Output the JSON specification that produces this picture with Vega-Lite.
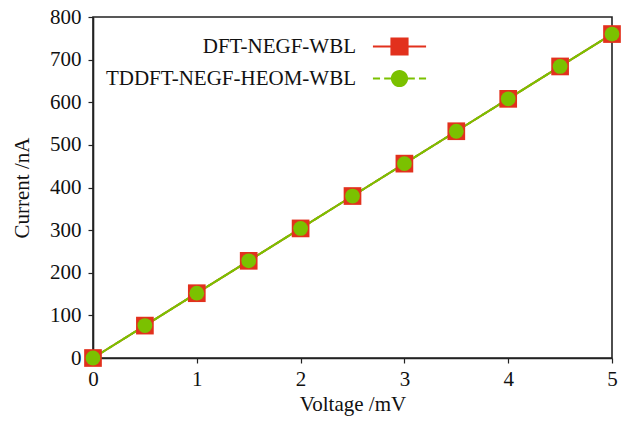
{
  "$schema": "https://vega.github.io/schema/vega-lite/v6.json",
  "width": 519,
  "height": 341,
  "autosize": "none",
  "padding": {"left": 93, "top": 17, "right": 12, "bottom": 63},
  "background": "white",
  "config": {
    "font": "Liberation Serif",
    "view": {"stroke": "#222222", "strokeWidth": 1.6},
    "axis": {
      "grid": false,
      "domainColor": "#222222",
      "domainWidth": 1.6,
      "tickColor": "#222222",
      "tickWidth": 1.2,
      "tickSize": 5,
      "labelFlush": false,
      "labelFont": "Liberation Serif",
      "labelFontSize": 21,
      "labelColor": "#111111",
      "titleFont": "Liberation Serif",
      "titleFontSize": 21,
      "titleFontWeight": "normal",
      "titleColor": "#111111"
    },
    "legend": {
      "labelFont": "Liberation Serif",
      "labelFontSize": 21,
      "labelColor": "#111111",
      "labelLimit": 0
    }
  },
  "data": {
    "values": [
      {"series": "DFT-NEGF-WBL", "voltage": 0, "current": 0},
      {"series": "DFT-NEGF-WBL", "voltage": 0.5, "current": 76},
      {"series": "DFT-NEGF-WBL", "voltage": 1, "current": 152},
      {"series": "DFT-NEGF-WBL", "voltage": 1.5, "current": 228},
      {"series": "DFT-NEGF-WBL", "voltage": 2, "current": 304},
      {"series": "DFT-NEGF-WBL", "voltage": 2.5, "current": 380},
      {"series": "DFT-NEGF-WBL", "voltage": 3, "current": 456},
      {"series": "DFT-NEGF-WBL", "voltage": 3.5, "current": 532},
      {"series": "DFT-NEGF-WBL", "voltage": 4, "current": 608},
      {"series": "DFT-NEGF-WBL", "voltage": 4.5, "current": 684},
      {"series": "DFT-NEGF-WBL", "voltage": 5, "current": 760},
      {"series": "TDDFT-NEGF-HEOM-WBL", "voltage": 0, "current": 0},
      {"series": "TDDFT-NEGF-HEOM-WBL", "voltage": 0.5, "current": 76},
      {"series": "TDDFT-NEGF-HEOM-WBL", "voltage": 1, "current": 152},
      {"series": "TDDFT-NEGF-HEOM-WBL", "voltage": 1.5, "current": 228},
      {"series": "TDDFT-NEGF-HEOM-WBL", "voltage": 2, "current": 304},
      {"series": "TDDFT-NEGF-HEOM-WBL", "voltage": 2.5, "current": 380},
      {"series": "TDDFT-NEGF-HEOM-WBL", "voltage": 3, "current": 456},
      {"series": "TDDFT-NEGF-HEOM-WBL", "voltage": 3.5, "current": 532},
      {"series": "TDDFT-NEGF-HEOM-WBL", "voltage": 4, "current": 608},
      {"series": "TDDFT-NEGF-HEOM-WBL", "voltage": 4.5, "current": 684},
      {"series": "TDDFT-NEGF-HEOM-WBL", "voltage": 5, "current": 760}
    ]
  },
  "encoding": {
    "x": {
      "field": "voltage",
      "type": "quantitative",
      "scale": {"domain": [0, 5], "nice": false, "zero": false},
      "axis": {"values": [0, 1, 2, 3, 4, 5], "title": "Voltage /mV", "labelPadding": 5, "titlePadding": 4, "format": "d", "labelFlush": false}
    },
    "y": {
      "field": "current",
      "type": "quantitative",
      "scale": {"domain": [0, 800], "nice": false},
      "axis": {"values": [0, 100, 200, 300, 400, 500, 600, 700, 800], "title": "Current /nA", "labelPadding": 7, "titlePadding": 17, "format": "d", "labelFlush": false}
    }
  },
  "layer": [
    {
      "mark": {"type": "line", "strokeWidth": 2},
      "encoding": {
        "color": {
          "field": "series",
          "type": "nominal",
          "scale": {"domain": ["DFT-NEGF-WBL", "TDDFT-NEGF-HEOM-WBL"], "range": ["#e2311d", "#7bc100"]},
          "legend": {
            "title": null,
            "orient": "none",
            "legendX": 296,
            "legendY": 19,
            "labelAlign": "right",
            "labelOffset": -54,
            "labelLimit": 0,
            "symbolSize": 350,
            "symbolStrokeWidth": 0,
            "rowPadding": 10,
            "encode": {
              "symbols": {
                "update": {
                  "shape": {"signal": "datum.value == 'DFT-NEGF-WBL' ? 'M-2.84,-0.11L2.84,-0.11L2.84,0.11L-2.84,0.11Z M-0.97,-0.97L0.97,-0.97L0.97,0.97L-0.97,0.97Z' : 'M-2.84,-0.11L-2.08,-0.11L-2.08,0.11L-2.84,0.11Z M-1.64,-0.11L-0.8,-0.11L-0.8,0.11L-1.64,0.11Z M0.8,-0.11L1.64,-0.11L1.64,0.11L0.8,0.11Z M2.08,-0.11L2.84,-0.11L2.84,0.11L2.08,0.11Z M0.92,0A0.92,0.92 0 1,1 -0.92,0A0.92,0.92 0 1,1 0.92,0Z'"},
                  "fill": {"signal": "datum.value == 'DFT-NEGF-WBL' ? '#e2311d' : '#7bc100'"},
                  "stroke": {"value": "transparent"},
                  "strokeWidth": {"value": 0},
                  "opacity": {"value": 1},
                  "fillOpacity": {"value": 1}
                }
              }
            }
          }
        }
      }
    },
    {
      "transform": [{"filter": "datum.series == 'TDDFT-NEGF-HEOM-WBL'"}],
      "mark": {"type": "line", "strokeWidth": 2, "color": "#7bc100", "strokeDash": [5, 4]}
    },
    {
      "transform": [{"filter": "datum.series == 'DFT-NEGF-WBL'"}],
      "mark": {"type": "square", "filled": true, "opacity": 1, "color": "#e2311d", "size": 313}
    },
    {
      "transform": [{"filter": "datum.series == 'TDDFT-NEGF-HEOM-WBL'"}],
      "mark": {"type": "circle", "filled": true, "opacity": 1, "color": "#7bc100", "size": 219}
    }
  ]
}
